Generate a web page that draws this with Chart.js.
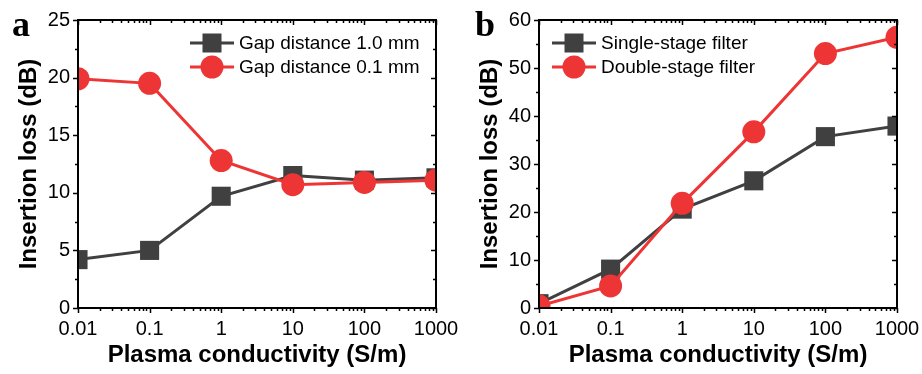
<!DOCTYPE html>
<html>
<head>
<meta charset="utf-8">
<script src="https://cdn.jsdelivr.net/npm/chart.js@4/dist/chart.umd.min.js"></script>
<style>
  html, body { margin: 0; padding: 0; background: #fff; }
  #wrap { display: flex; width: 922px; height: 374px; }
  .panel { position: relative; width: 461px; height: 374px; }
</style>
</head>
<body>
<div id="wrap">
  <div class="panel"><canvas id="ca"></canvas></div>
  <div class="panel"><canvas id="cb"></canvas></div>
</div>
<script>
// ---- data ----
const conductivity = [0.01, 0.1, 1, 10, 100, 1000];
const xTickValues = [0.01, 0.1, 1, 10, 100, 1000];
const xTickLabels = ['0.01', '0.1', '1', '10', '100', '1000'];

const gap10Label = 'Gap distance 1.0 mm';
const gap01Label = 'Gap distance 0.1 mm';
const gap10 = [4.2, 5.0, 9.7, 11.5, 11.1, 11.3];
const gap01 = [19.9, 19.5, 12.8, 10.7, 10.9, 11.1];

const singleLabel = 'Single-stage filter';
const doubleLabel = 'Double-stage filter';
const singleStage = [0.9, 8.1, 20.6, 26.5, 35.7, 37.9];
const doubleStage = [0.4, 4.6, 21.8, 36.7, 53.0, 56.4];

const yTicksA = [0, 5, 10, 15, 20, 25];
const yTicksB = [0, 10, 20, 30, 40, 50, 60];

const GRAY = '#404040';
const RED = '#ee3535';
const TICK_FONT = { family: 'Liberation Sans, Arial, sans-serif', size: 20 };
const TITLE_FONT = { family: 'Liberation Sans, Arial, sans-serif', size: 24, weight: 'bold' };

function frame(chart, opts) {
  const ctx = chart.ctx;
  const a = chart.chartArea;
  const xs = chart.scales.x, ys = chart.scales.y;
  ctx.save();
  ctx.strokeStyle = '#000';
  ctx.lineWidth = 2;
  ctx.strokeRect(a.left, a.top, a.right - a.left, a.bottom - a.top);
  ctx.lineWidth = 1.5;
  // x ticks (log)
  ctx.beginPath();
  for (let e = -2; e <= 3; e++) {
    for (let m = 1; m <= 9; m++) {
      const v = m * Math.pow(10, e);
      if (v > 1000 + 1e-9) continue;
      const px = Math.round(xs.getPixelForValue(v)) + 0.5;
      const L = m === 1 ? 5 : 3;
      ctx.moveTo(px, a.bottom); ctx.lineTo(px, a.bottom + L);
      ctx.moveTo(px, a.top); ctx.lineTo(px, a.top + L);
    }
  }
  // y ticks
  const step = opts.yStep, max = opts.yMax;
  for (let v = 0; v <= max + 1e-9; v += step / 2) {
    const py = Math.round(ys.getPixelForValue(v)) + 0.5;
    const major = Math.abs(v / step - Math.round(v / step)) < 1e-6;
    const L = major ? 5 : 3;
    ctx.moveTo(a.left - L, py); ctx.lineTo(a.left, py);
    ctx.moveTo(a.right, py); ctx.lineTo(a.right - L, py);
  }
  ctx.stroke();
  // panel letter
  ctx.fillStyle = '#000';
  ctx.font = 'bold 36px "Liberation Serif", "Times New Roman", serif';
  ctx.textBaseline = 'alphabetic';
  ctx.textAlign = 'left';
  ctx.fillText(opts.letter, opts.letterX, 36);
  // legend
  ctx.font = '19px "Liberation Sans", Arial, sans-serif';
  ctx.textBaseline = 'middle';
  opts.legend.forEach((it, i) => {
    const y = opts.legY + i * 24;
    const x0 = opts.legX;
    ctx.strokeStyle = it.color;
    ctx.lineWidth = 3;
    ctx.beginPath(); ctx.moveTo(x0, y); ctx.lineTo(x0 + 44, y); ctx.stroke();
    ctx.fillStyle = it.color;
    const cx = x0 + 22;
    if (it.shape === 'rect') {
      ctx.fillRect(cx - 9.5, y - 9.5, 19, 19);
    } else {
      ctx.beginPath(); ctx.arc(cx, y, 11.5, 0, Math.PI * 2); ctx.fill();
    }
    ctx.fillStyle = '#000';
    ctx.fillText(it.label, x0 + 49, y + 1);
  });
  ctx.restore();
}

function makeChart(id, d1, d2, l1, l2, yMax, yStep, yTicks, extra) {
  const framePlugin = { id: 'frame' + id, afterDatasetsDraw(chart) { frame(chart, extra); } };
  return new Chart(document.getElementById(id), {
    type: 'line',
    data: {
      datasets: [
        { label: l1, data: conductivity.map((x, i) => ({ x, y: d1[i] })), borderColor: GRAY, backgroundColor: GRAY,
          borderWidth: 3, pointStyle: 'rect', pointRadius: 13.5, pointHoverRadius: 13.5, pointBorderWidth: 0, order: 1, clip: 0 },
        { label: l2, data: conductivity.map((x, i) => ({ x, y: d2[i] })), borderColor: RED, backgroundColor: RED,
          borderWidth: 3, pointStyle: 'circle', pointRadius: 11.5, pointHoverRadius: 11.5, pointBorderWidth: 0, order: 0, clip: 0 }
      ]
    },
    options: {
      responsive: false,
      animation: false,
      devicePixelRatio: 1,
      layout: { padding: { left: 0, top: 20, right: 25, bottom: 0 } },
      plugins: { legend: { display: false }, tooltip: { enabled: false } },
      scales: {
        x: {
          type: 'logarithmic', min: 0.01, max: 1000,
          afterBuildTicks: s => { s.ticks = xTickValues.map(v => ({ value: v })); },
          afterFit: s => { s.height = 66; s.paddingLeft = 0; s.paddingRight = 0; },
          grid: { display: false, drawTicks: false },
          border: { display: false },
          ticks: { autoSkip: false, maxRotation: 0, padding: 9, color: '#000', font: TICK_FONT,
            callback: (v) => { const i = xTickValues.findIndex(t => Math.abs(t - v) / t < 1e-6); return i >= 0 ? xTickLabels[i] : ''; } },
          title: { display: true, text: 'Plasma conductivity (S/m)', color: '#000', font: TITLE_FONT, padding: { top: 0, bottom: 4 } }
        },
        y: {
          min: 0, max: yMax,
          afterBuildTicks: s => { s.ticks = yTicks.map(v => ({ value: v })); },
          afterFit: s => { s.width = 78; s.paddingTop = 0; s.paddingBottom = 0; },
          grid: { display: false, drawTicks: false },
          border: { display: false },
          ticks: { padding: 8, color: '#000', font: TICK_FONT },
          title: { display: true, text: 'Insertion loss (dB)', color: '#000', font: TITLE_FONT, padding: { top: 15, bottom: 0 } }
        }
      }
    },
    plugins: [framePlugin]
  });
}

document.getElementById('ca').width = 461; document.getElementById('ca').height = 374;
document.getElementById('cb').width = 461; document.getElementById('cb').height = 374;

makeChart('ca', gap10, gap01, gap10Label, gap01Label, 25, 5, yTicksA, {
  letter: 'a', letterX: 12, yMax: 25, yStep: 5, legX: 190, legY: 43,
  legend: [{ label: gap10Label, color: GRAY, shape: 'rect' }, { label: gap01Label, color: RED, shape: 'circle' }]
});
makeChart('cb', singleStage, doubleStage, singleLabel, doubleLabel, 60, 10, yTicksB, {
  letter: 'b', letterX: 14, yMax: 60, yStep: 10, legX: 91, legY: 43,
  legend: [{ label: singleLabel, color: GRAY, shape: 'rect' }, { label: doubleLabel, color: RED, shape: 'circle' }]
});
</script>
</body>
</html>
